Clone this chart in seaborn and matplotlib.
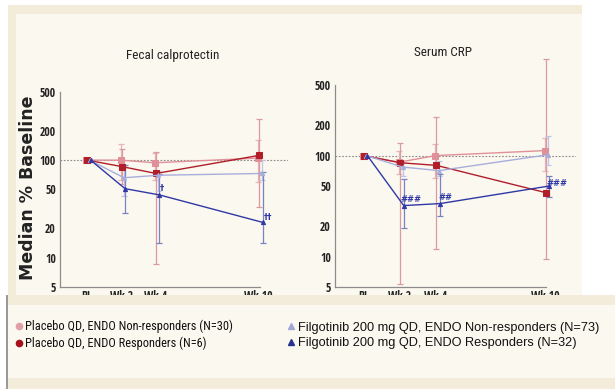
import numpy as np
import pandas as pd
import matplotlib
matplotlib.use("Agg")
import matplotlib.pyplot as plt
from matplotlib import font_manager as fm
from matplotlib.font_manager import FontProperties
from matplotlib.patches import Rectangle
from matplotlib.lines import Line2D
import seaborn as sns

# ---- data -------------------------------------------------------------
weeks = [0, 2, 4, 10]
week_labels = ["BL", "Wk 2", "Wk 4", "Wk 10"]
y_ticks = [5, 10, 20, 50, 100, 200, 500]

series_names = [
    "Placebo QD, ENDO Non-responders (N=30)",
    "Placebo QD, ENDO Responders (N=6)",
    "Filgotinib 200 mg QD, ENDO Non-responders (N=73)",
    "Filgotinib 200 mg QD, ENDO Responders (N=32)",
]

# Fecal calprotectin, median % of baseline
fc_pbo_nr = [100, 100, 94, 105]
fc_pbo_r = [100, 86, 73, 112]
fc_fil_nr = [100, 66, 70, 73]
fc_fil_r = [100, 51, 44, 23]
fc_pbo_nr_lo = [np.nan, 62, 62, 59]
fc_pbo_nr_hi = [np.nan, 145, 118, 160]
fc_pbo_r_lo = [np.nan, 57, 8.7, 33]
fc_pbo_r_hi = [np.nan, 130, 121, 265]
fc_fil_nr_lo = [np.nan, 43, 48, 62]
fc_fil_nr_hi = [np.nan, 85, 78, 100]
fc_fil_r_lo = [np.nan, 29, 14, 14]
fc_fil_r_hi = [np.nan, 89, 72, 76]

# Serum CRP, median % of baseline
crp_pbo_nr = [100, 86, 100, 112]
crp_pbo_r = [100, 85, 80, 43]
crp_fil_nr = [100, 77, 71, 102]
crp_fil_r = [100, 32, 33.5, 50]
crp_pbo_nr_lo = [np.nan, 65, 60, 71]
crp_pbo_nr_hi = [np.nan, 112, 131, 149]
crp_pbo_r_lo = [np.nan, 5.3, 12, 9.5]
crp_pbo_r_hi = [np.nan, 133, 240, 900]
crp_fil_nr_lo = [np.nan, 63, 63, 80]
crp_fil_nr_hi = [np.nan, 85, 89, 155]
crp_fil_r_lo = [np.nan, 19, 25, 39]
crp_fil_r_hi = [np.nan, 59, 65, 63]

# significance marks: (week, value, text)
fc_marks = [(4.38, 51, "\u2020"), (10.52, 25.7, "\u2020\u2020")]
crp_marks = [(2.63, 36.4, "###"), (4.53, 38.6, "##"), (10.63, 53, "###")]

# ---- fonts ------------------------------------------------------------
sns.set_style("ticks")
plt.rcParams["font.family"] = ["Liberation Sans", "DejaVu Sans"]

COND = {"condensed": 0, "semi-condensed": 1, "extra-condensed": 2, "ultra-condensed": 3}
FAMILY_RANK = ["Liberation Sans Narrow", "Liberation Sans", "Noto Sans", "Open Sans",
               "Roboto", "DejaVu Sans", "Lato", "Inter"]


def _weight(w):
    return w if isinstance(w, int) else fm.weight_dict.get(w, 400)


def narrow_font(bold):
    """Pick an installed narrow/condensed sans face (regular or bold)."""
    best, best_key = None, None
    for f in fm.fontManager.ttflist:
        st = str(f.stretch)
        is_cond = st in COND or "Narrow" in f.name or "Condensed" in f.name
        if not is_cond or f.style != "normal":
            continue
        w = _weight(f.weight)
        if bold and not (600 <= w <= 750):
            continue
        if not bold and not (350 <= w <= 500):
            continue
        fam_rank = next((k for k, n in enumerate(FAMILY_RANK) if f.name.startswith(n)), 99)
        key = (fam_rank, COND.get(st, 0))
        if best_key is None or key < best_key:
            best, best_key = f.fname, key
    return best


reg_path = narrow_font(False)
bold_path = narrow_font(True)


def fp(size, bold=False):
    path = bold_path if bold else reg_path
    if path is not None:
        return FontProperties(fname=path, size=size)
    return FontProperties(family="Liberation Sans", size=size * 0.8,
                          weight="bold" if bold else "normal")


# ---- styling ----------------------------------------------------------
line_colors = ["#E09098", "#B01E2A", "#A8AEDC", "#3038A6"]
err_colors = ["#E8B4B8", "#D99AA0", "#C0C4E6", "#7A82C4"]
markers = ["s", "s", "^", "^"]
msizes = [4, 4.5, 3, 3]
offsets = [-0.03, 0.03, 0.17, 0.23]

CREAM = "#FBF8EF"
TAN = "#F4ECDA"
W, H = 615, 389

fig = plt.figure(figsize=(W / 100, H / 100), dpi=100)
fig.patch.set_facecolor("white")


def frac_box(x0, y0, x1, y1):
    """pixel box (from top-left) -> figure fraction rect"""
    return (x0 / W, 1 - y1 / H, (x1 - x0) / W, (y1 - y0) / H)


def add_rect(x0, y0, x1, y1, color, z):
    l, b, w, h = frac_box(x0, y0, x1, y1)
    fig.add_artist(Rectangle((l, b), w, h, transform=fig.transFigure,
                             facecolor=color, edgecolor="none", zorder=z))


# page background behind the charts
add_rect(8, 5, 582, 295, TAN, -2)
add_rect(16, 14, 582, 295, CREAM, -1)

panels = [
    dict(box=(60, 92, 288, 287), title="Fecal calprotectin", title_xy=(173, 55),
         vals=[fc_pbo_nr, fc_pbo_r, fc_fil_nr, fc_fil_r],
         lo=[fc_pbo_nr_lo, fc_pbo_r_lo, fc_fil_nr_lo, fc_fil_r_lo],
         hi=[fc_pbo_nr_hi, fc_pbo_r_hi, fc_fil_nr_hi, fc_fil_r_hi],
         marks=fc_marks),
    dict(box=(335, 85, 576, 287), title="Serum CRP", title_xy=(443, 53),
         vals=[crp_pbo_nr, crp_pbo_r, crp_fil_nr, crp_fil_r],
         lo=[crp_pbo_nr_lo, crp_pbo_r_lo, crp_fil_nr_lo, crp_fil_r_lo],
         hi=[crp_pbo_nr_hi, crp_pbo_r_hi, crp_fil_nr_hi, crp_fil_r_hi],
         marks=crp_marks),
]

for p in panels:
    x0, y0, x1, y1 = p["box"]
    ax = fig.add_axes(frac_box(x0, y0, x1, y1))
    ax.set_facecolor("none")

    for i, name in enumerate(series_names):
        xs = np.array(weeks) + offsets[i]
        v = np.array(p["vals"][i], dtype=float)
        lo = np.array(p["lo"][i], dtype=float)
        hi = np.array(p["hi"][i], dtype=float)
        ok = ~np.isnan(lo)
        ax.errorbar(xs[ok], v[ok], yerr=[v[ok] - lo[ok], hi[ok] - v[ok]],
                    fmt="none", ecolor=err_colors[i], elinewidth=0.9,
                    capsize=2.5, capthick=0.9, clip_on=False, zorder=2)
        df = pd.DataFrame({"week": xs, "value": v})
        sns.lineplot(data=df, x="week", y="value", ax=ax, color=line_colors[i],
                     marker=markers[i], markersize=msizes[i],
                     markeredgecolor=line_colors[i], linewidth=1.0,
                     sort=False, zorder=3, legend=False)

    ax.set_yscale("log")
    ax.set_ylim(5, 500)
    ax.set_xlim(-1.55, 11.7)
    ax.axhline(100, color="#8A8A8A", lw=0.8, ls=(0, (1.5, 1.5)), zorder=1)
    ax.set_yticks(y_ticks)
    ax.set_yticklabels([str(t) for t in y_ticks])
    ax.yaxis.set_minor_locator(matplotlib.ticker.NullLocator())
    ax.set_xticks(weeks)
    ax.set_xticklabels(week_labels)
    ax.tick_params(axis="both", length=0, colors="#222222")
    ax.tick_params(axis="y", pad=3)
    ax.tick_params(axis="x", pad=2.5)
    for lab in ax.get_xticklabels() + ax.get_yticklabels():
        lab.set_fontproperties(fp(8.5, bold=True))
    for s in ["top", "right"]:
        ax.spines[s].set_visible(False)
    for s in ["left", "bottom"]:
        ax.spines[s].set_color("#8C8C8C")
        ax.spines[s].set_linewidth(0.9)
    ax.spines["bottom"].set_bounds(-1.55, 10.05)
    ax.set_xlabel("")
    ax.set_ylabel("")

    for (wx, wy, txt) in p["marks"]:
        ax.text(wx, wy, txt, color="#3038A6", fontsize=6, fontweight="bold",
                ha="center", va="center", family=["DejaVu Sans"], zorder=4)

    tx, ty = p["title_xy"]
    fig.text(tx / W, 1 - ty / H, p["title"], ha="center", va="center",
             fontproperties=fp(9.5), color="#222222")

fig.text(28 / W, 1 - 188 / H, "Median % Baseline", rotation=90, ha="center",
         va="center", fontsize=12.5, fontweight="bold", color="#222222",
         family=["DejaVu Sans"])

# legend panel below the charts (covers the lower half of the week labels)
add_rect(8, 295, 615, 305, TAN, 5)
add_rect(8, 305, 615, 378, CREAM, 5)
add_rect(8, 378, 615, 389, TAN, 5)
add_rect(6, 295, 8, 389, "#9A9A9A", 5)

leg_colors = ["#E0A0A6", "#A8101E", "#A0A8D8", "#2A3290"]
leg_markers = ["o", "o", "^", "^"]
handles = [Line2D([], [], ls="none", marker=leg_markers[i], color=leg_colors[i],
                  markersize=4.5) for i in range(4)]
legend_cols = [
    ([0, 1], 16, 319.5, 0.3, fp(8.9)),
    ([2, 3], 288, 321.5, 0.3, FontProperties(family="Liberation Sans", size=9.2)),
]
for cols, x_px, y_px, spacing, prop in legend_cols:
    leg = fig.legend([handles[c] for c in cols], [series_names[c] for c in cols],
                     loc="upper left", bbox_to_anchor=(x_px / W, 1 - y_px / H),
                     frameon=False, prop=prop, handlelength=0.5,
                     handletextpad=0.25, labelspacing=spacing,
                     borderpad=0, borderaxespad=0)
    leg.set_zorder(6)
    for t in leg.get_texts():
        t.set_color("#111111")

fig.savefig("out.png", dpi=100)
